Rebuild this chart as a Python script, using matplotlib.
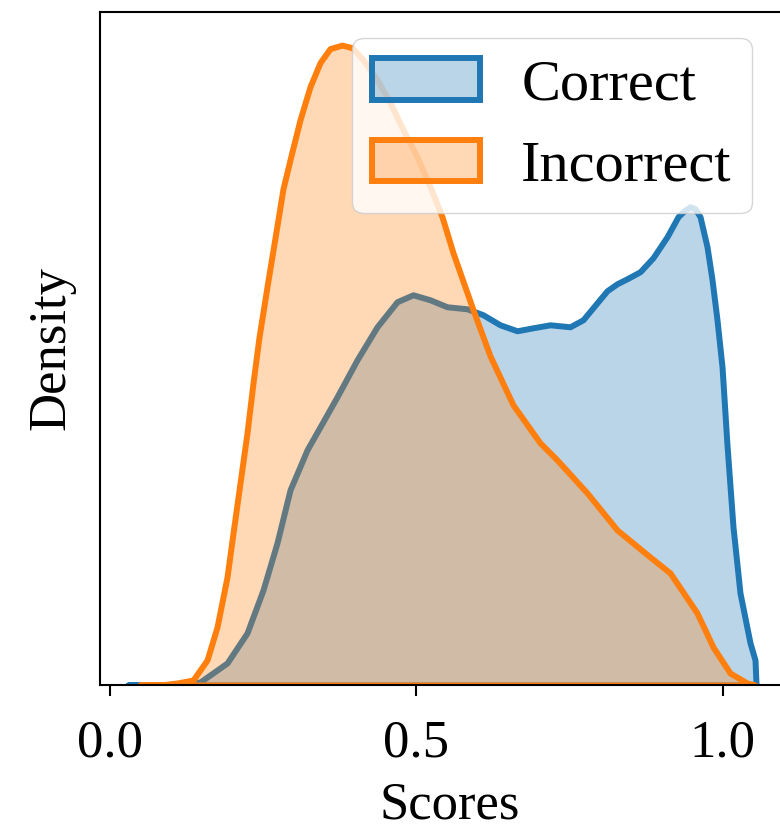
import numpy as np
import matplotlib
matplotlib.use("Agg")
import matplotlib.pyplot as plt
from matplotlib.patches import Patch
from matplotlib.colors import to_rgba

# KDE curves (score, density)
correct_x = [0.0302, 0.0661, 0.1232, 0.1476, 0.1917, 0.2243, 0.2504, 0.2732, 0.2945, 0.3222,
             0.3711, 0.4038, 0.4364, 0.4690, 0.4951, 0.5228, 0.5506, 0.5832, 0.6093, 0.6370,
             0.6648, 0.6909, 0.7186, 0.7512, 0.7724, 0.7953, 0.8116, 0.8279, 0.8442, 0.8654,
             0.8866, 0.9095, 0.9274, 0.9372, 0.9470, 0.9551, 0.9633, 0.9747, 0.9829, 0.9910,
             0.9992, 1.0073, 1.0171, 1.0285, 1.0449, 1.0530, 1.0547]
correct_y = [0.0, 0.0, 0.0053, 0.0158, 0.1158, 0.2737, 0.5000, 0.7474, 1.0263, 1.2368,
             1.5158, 1.7105, 1.8842, 2.0158, 2.0526, 2.0263, 1.9895, 1.9789, 1.9474, 1.8947,
             1.8632, 1.8789, 1.8947, 1.8842, 1.9211, 2.0105, 2.0737, 2.1105, 2.1368, 2.1737,
             2.2474, 2.3579, 2.4632, 2.4937, 2.5158, 2.5053, 2.4632, 2.3053, 2.1316, 1.9211,
             1.6737, 1.2632, 0.8316, 0.4842, 0.2211, 0.1316, 0.0]

incorrect_x = [0.0498, 0.0824, 0.1101, 0.1362, 0.1591, 0.1754, 0.1917, 0.2015, 0.2129, 0.2243,
               0.2341, 0.2439, 0.2569, 0.2732, 0.2830, 0.2977, 0.3108, 0.3271, 0.3434, 0.3597,
               0.3793, 0.3956, 0.4135, 0.4364, 0.4576, 0.4788, 0.5016, 0.5228, 0.5424, 0.5603,
               0.5930, 0.6207, 0.6582, 0.7023, 0.7300, 0.7790, 0.8279, 0.8817, 0.9144, 0.9584,
               0.9845, 1.0122, 1.0400, 1.0530]
incorrect_y = [0.0, 0.0, 0.0105, 0.0263, 0.1316, 0.3053, 0.5684, 0.8000, 1.0632, 1.3263,
               1.5895, 1.8300, 2.0947, 2.4158, 2.6105, 2.8053, 2.9737, 3.1474, 3.2737, 3.3474,
               3.3658, 3.3526, 3.2895, 3.1842, 3.0632, 2.9211, 2.7789, 2.6211, 2.4632, 2.2737,
               1.9737, 1.7316, 1.4737, 1.2737, 1.1842, 1.0105, 0.8158, 0.6737, 0.5895, 0.3789,
               0.2000, 0.0632, 0.0105, 0.0]

labels = ["Correct", "Incorrect"]
xticks = [0.0, 0.5, 1.0]

plt.rcParams['font.family'] = ['Liberation Serif', 'DejaVu Serif']
fs = 38

fig = plt.figure(figsize=(7.8, 8.36), dpi=100)
ax = fig.add_axes([100/780, 151/836, 700/780, 673/836])

blue, orange = "#1f77b4", "#ff7f0e"
for xs, ys, c in [(correct_x, correct_y, blue), (incorrect_x, incorrect_y, orange)]:
    ax.fill_between(xs, 0, ys, facecolor=to_rgba(c, 0.3), edgecolor=c, linewidth=4.3,
                    joinstyle="round")

ax.set_xlim(-0.0155, 1.1264)
ax.set_ylim(0, 3.54)
ax.set_xticks(xticks)
ax.set_xticklabels(["%.1f" % v for v in xticks], fontsize=fs)
ax.set_yticks([])
ax.tick_params(axis="x", length=8, width=1.5, pad=17)
for s in ax.spines.values():
    s.set_linewidth(1.5)
ax.set_xlabel("Scores", fontsize=fs, labelpad=10)
ax.set_ylabel("Density", fontsize=fs, labelpad=18)

handles = [Patch(facecolor=to_rgba(blue, 0.3), edgecolor=blue, linewidth=4.3),
           Patch(facecolor=to_rgba(orange, 0.3), edgecolor=orange, linewidth=4.3)]
ax.legend(handles, labels, fontsize=42, loc="upper left",
          bbox_to_anchor=(352/780, 1 - 38/836), bbox_transform=fig.transFigure,
          handlelength=1.85, handleheight=0.72, borderaxespad=0, labelspacing=0.48,
          borderpad=0.35, handletextpad=0.7)

fig.savefig("out.png", dpi=100)
